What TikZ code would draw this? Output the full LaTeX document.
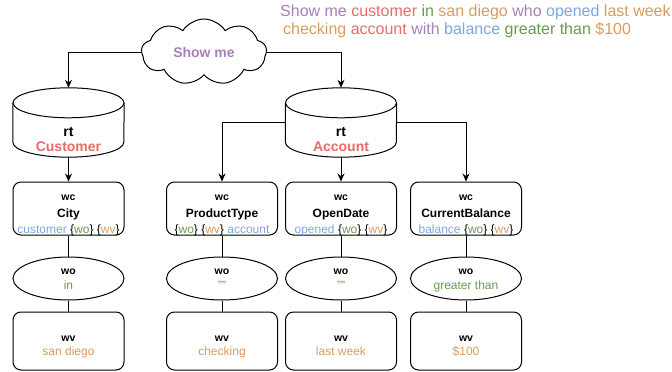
\documentclass[tikz,border=0pt]{standalone}
\usepackage{fontspec}
\setmainfont{Liberation Sans}
\usetikzlibrary{arrows.meta,shapes.geometric,shapes.symbols}

\definecolor{qpurple}{HTML}{A680B8}
\definecolor{qred}{HTML}{EA6B66}
\definecolor{qgreen}{HTML}{6A9A4B}
\definecolor{qorange}{HTML}{D99B5F}
\definecolor{qblue}{HTML}{7EA6E0}

\newcommand{\kind}[1]{{\fontsize{10.5}{10.5}\selectfont\bfseries #1}}
\newcommand{\cwo}{\{\textcolor{qgreen}{wo}\}}
\newcommand{\cwv}{\{\textcolor{qorange}{wv}\}}

\tikzstyle{cloud-node}=[cloud,draw,line width=1pt,cloud puffs=9,cloud puff arc=115,cloud ignores aspect,minimum width=125,minimum height=66,inner sep=0pt,text=qpurple,font=\fontsize{14}{16}\selectfont\bfseries]
\tikzstyle{rt-node}=[rectangle,minimum width=111,minimum height=69,inner sep=0pt]
\tikzstyle{rt-line}=[line width=1pt,fill=white]
\tikzstyle{rt-text}=[align=center,yshift=-17pt,font=\fontsize{14}{15}\selectfont\bfseries]
\tikzstyle{wc-node}=[rectangle,rounded corners=8pt,draw,line width=1pt,minimum width=111,minimum height=53,inner sep=0pt,align=center,font=\fontsize{12}{16.5}\selectfont,text height=50pt,text depth=0pt]
\tikzstyle{wo-node}=[ellipse,draw,line width=1pt,minimum width=111,minimum height=43,inner sep=0pt,align=center,font=\fontsize{12}{15}\selectfont,text height=22pt,text depth=0pt]
\tikzstyle{wv-node}=[rectangle,rounded corners=8pt,draw,line width=1pt,minimum width=111,minimum height=58,inner sep=0pt,align=center,font=\fontsize{12}{14}\selectfont,text height=29pt,text depth=0pt]
\tikzstyle{flow-arrow}=[line width=1pt,-{Stealth[length=8pt,width=7pt]}]
\tikzstyle{link-line}=[line width=1pt]

\begin{document}
\begin{tikzpicture}[x=1pt,y=-1pt]
    \useasboundingbox (0,0) rectangle (672,372);
    \begin{scope}
        \node[anchor=north west,inner sep=0pt,align=left,font=\fontsize{16}{18}\selectfont] at (280,4.5) (query) {\textcolor{qpurple}{Show me} \textcolor{qred}{customer} \textcolor{qgreen}{in} \textcolor{qorange}{san diego} \textcolor{qpurple}{who} \textcolor{qblue}{opened} \textcolor{qorange}{last week}\\\hspace*{3pt}\textcolor{qorange}{checking} \textcolor{qred}{account} \textcolor{qpurple}{with} \textcolor{qblue}{balance} \textcolor{qgreen}{greater than} \textcolor{qorange}{\$100}};
        \node[cloud-node] at (204,52) (cloud) {Show me};

        \node[rt-node] at (68.5,122.5) (cust) {};
        \node[rt-node] at (341,122.5) (acc) {};
        \foreach \n in {cust, acc}{
            \draw[rt-line] ([yshift=-15pt]\n.north west) -- ([yshift=15pt]\n.south west) arc[start angle=180, end angle=0, x radius=55.5, y radius=15] -- ([yshift=-15pt]\n.north east);
            \draw[rt-line] ([yshift=-15pt]\n.north) ellipse [x radius=55.5, y radius=15];
        }
        \node[rt-text] at (cust) (cust-name) {rt\\\textcolor{qred}{Customer}};
        \node[rt-text] at (acc) (acc-name) {rt\\\textcolor{qred}{Account}};

        \node[wc-node] at (68.5,208.5) (c1) {\kind{wc}\\\textbf{City}\\\textcolor{qblue}{customer} \cwo\ \cwv};
        \node[wc-node] at (222,208.5) (c2) {\kind{wc}\\\textbf{ProductType}\\\cwo\ \cwv\ \textcolor{qblue}{account}};
        \node[wc-node] at (341,208.5) (c3) {\kind{wc}\\\textbf{OpenDate}\\\textcolor{qblue}{opened} \cwo\ \cwv};
        \node[wc-node] at (466,208.5) (c4) {\kind{wc}\\\textbf{CurrentBalance}\\\textcolor{qblue}{balance} \cwo\ \cwv};

        \node[wo-node] at (68.5,278.5) (o1) {\kind{wo}\\\textcolor{qgreen}{in}};
        \node[wo-node] at (222,278.5) (o2) {\kind{wo}\\\textcolor{qgreen}{""}};
        \node[wo-node] at (341,278.5) (o3) {\kind{wo}\\\textcolor{qgreen}{""}};
        \node[wo-node] at (466,278.5) (o4) {\kind{wo}\\\textcolor{qgreen}{greater than}};

        \node[wv-node] at (68.5,341) (v1) {\kind{wv}\\\textcolor{qorange}{san diego}};
        \node[wv-node] at (222,341) (v2) {\kind{wv}\\\textcolor{qorange}{checking}};
        \node[wv-node] at (341,341) (v3) {\kind{wv}\\\textcolor{qorange}{last week}};
        \node[wv-node] at (466,341) (v4) {\kind{wv}\\\textcolor{qorange}{\$100}};

        \draw[flow-arrow] (cloud.west) -| (cust.north);
        \draw[flow-arrow] (cloud.east) -| (acc.north);
        \draw[flow-arrow] (cust.south) -- (c1.north);
        \draw[flow-arrow] (acc.west) -| (c2.north);
        \draw[flow-arrow] (acc.south) -- (c3.north);
        \draw[flow-arrow] (acc.east) -| (c4.north);
        \foreach \i in {1, 2, 3, 4}{
            \draw[link-line] (c\i.south) -- (o\i.north);
            \draw[link-line] (o\i.south) -- (v\i.north);
        }
    \end{scope}
\end{tikzpicture}
\end{document}
